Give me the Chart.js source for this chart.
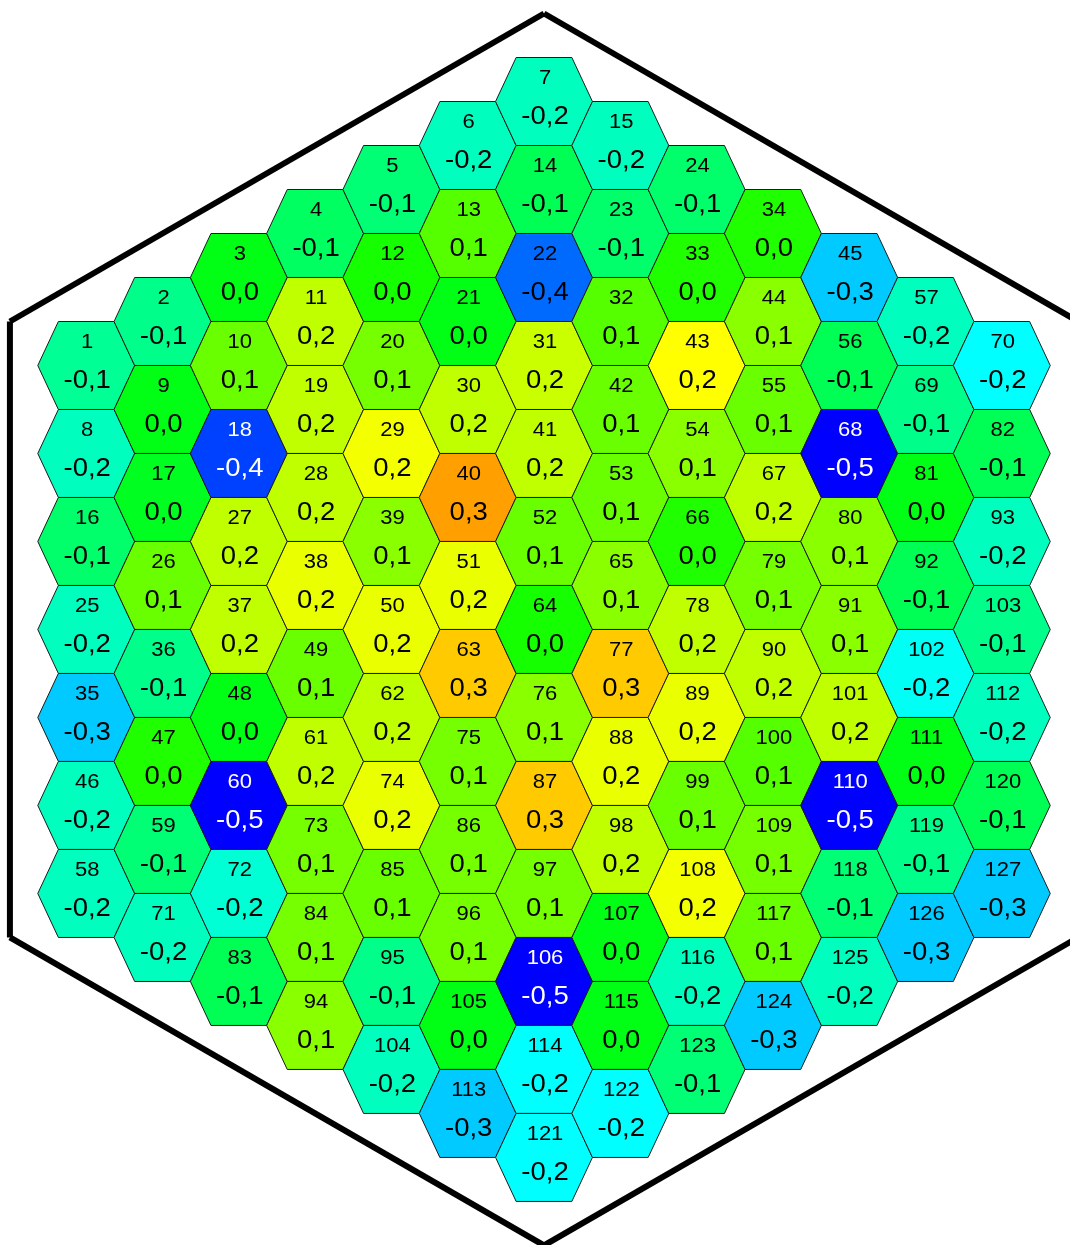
<!DOCTYPE html>
<html>
<head>
<meta charset="utf-8">
<script src="https://cdn.jsdelivr.net/npm/chart.js@4.4.0/dist/chart.umd.min.js"></script>
<style>
html, body { margin: 0; padding: 0; background: #fff; }
#wrap { width: 1070px; height: 1245px; }
</style>
</head>
<body>
<div id="wrap"><canvas id="core" width="1070" height="1245"></canvas></div>
<script>
// Core map - 127 hexagonal cells numbered along the up-right diagonal rows.
// Each inner array is one diagonal row. Values are estimated from the fill
// colour (the label shows them rounded to one decimal, with a comma).

const coreRows = [
    [-0.14, -0.13, -0.02, -0.09, -0.11, -0.18, -0.18],
    [-0.18, -0.02, 0.10, 0.18, 0.02, 0.08, -0.08, -0.18],
    [-0.10, -0.03, -0.42, 0.18, 0.11, -0.02, -0.38, -0.10, -0.10],
    [-0.18, 0.10, 0.18, 0.18, 0.23, 0.18, 0.19, 0.08, 0.03, 0.03],
    [-0.29, -0.13, 0.18, 0.22, 0.13, 0.33, 0.18, 0.10, 0.24, 0.13, -0.29],
    [-0.18, 0.03, -0.02, 0.10, 0.22, 0.22, 0.10, 0.10, 0.13, 0.10, -0.08, -0.18],
    [-0.18, -0.11, -0.50, 0.18, 0.18, 0.29, 0.02, 0.13, 0.03, 0.18, -0.50, -0.13, -0.24],
    [-0.18, -0.20, 0.11, 0.22, 0.11, 0.13, 0.29, 0.18, 0.11, 0.13, -0.02, -0.08],
    [-0.08, 0.11, 0.10, 0.11, 0.29, 0.22, 0.22, 0.18, 0.13, -0.08, -0.18],
    [0.13, -0.13, 0.11, 0.11, 0.18, 0.10, 0.08, 0.18, -0.23, -0.13],
    [-0.18, -0.02, -0.50, -0.02, 0.23, 0.11, -0.50, -0.02, -0.18],
    [-0.29, -0.24, -0.02, -0.18, 0.10, -0.11, -0.13, -0.08],
    [-0.24, -0.24, -0.11, -0.29, -0.18, -0.29, -0.29]
];

// first column (1..13) where each diagonal row starts
const rowFirstColumn = [1, 1, 1, 1, 1, 1, 1, 2, 3, 4, 5, 6, 7];

const rings = (coreRows.length + 1) / 2;   // 7
const centreCol = rings;                   // column 7 is the middle one

// build the cells: x = column offset, y = half-row offset (up is positive)
const cells = [];
let cellNo = 0;
coreRows.forEach((row, r) => {
    row.forEach((v, k) => {
        cellNo++;
        const col = rowFirstColumn[r] + k;
        cells.push({ x: col - centreCol, y: col + centreCol - 2 - 2 * r, v: v, n: cellNo });
    });
});

// colour scale: hue from blue (low) through cyan, green, yellow to orange
const cellColour = v => {
    const h = Math.max(0, Math.min(240, 120 - v * 250));
    return `hsl(${h}, 100%, 50%)`;
};
const fmt = v => ((Math.round(v * 10) / 10) + 0).toFixed(1).replace('.', ',');

const HALF_W = 0.635;   // half width of a cell, in column units
const HALF_T = 1 - HALF_W; // half of the flat top edge

const hexPlugin = {
    id: 'hexCells',
    afterDatasetsDraw(chart) {
        const { ctx, scales: { x, y } } = chart;
        const meta = chart.getDatasetMeta(0);
        const pts = chart.data.datasets[0].data;
        meta.data.forEach((el, i) => {
            const d = pts[i];
            const corners = [
                [d.x - HALF_W, d.y], [d.x - HALF_T, d.y + 1], [d.x + HALF_T, d.y + 1],
                [d.x + HALF_W, d.y], [d.x + HALF_T, d.y - 1], [d.x - HALF_T, d.y - 1]
            ];
            ctx.save();
            ctx.beginPath();
            corners.forEach(([cx, cy], j) => {
                const px = x.getPixelForValue(cx), py = y.getPixelForValue(cy);
                if (j === 0) ctx.moveTo(px, py); else ctx.lineTo(px, py);
            });
            ctx.closePath();
            ctx.fillStyle = cellColour(d.v);
            ctx.fill();
            ctx.lineWidth = 1;
            ctx.strokeStyle = '#1a1a1a';
            ctx.stroke();

            ctx.fillStyle = d.v < -0.4 ? '#ffffff' : '#000000';
            ctx.textAlign = 'center';
            ctx.textBaseline = 'middle';
            ctx.save();
            ctx.translate(el.x + 1, el.y - 23);
            ctx.scale(1.1, 1);
            ctx.font = '20px "Liberation Sans", Arial, sans-serif';
            ctx.fillText(String(d.n), 0, 0);
            ctx.restore();
            ctx.save();
            ctx.translate(el.x + 1, el.y + 15.5);
            ctx.scale(1.1, 1);
            ctx.font = '25px "Liberation Sans", Arial, sans-serif';
            ctx.fillText(fmt(d.v), 0, 0);
            ctx.restore();
            ctx.restore();
        });
    },
    afterDraw(chart) {
        // heavy outline round the core, drawn edge by edge
        const { ctx, scales: { x, y } } = chart;
        const n = rings;
        const outline = [[0, 2 * n], [n, n], [n, -n], [0, -2 * n], [-n, -n], [-n, n]];
        ctx.save();
        ctx.strokeStyle = '#000';
        ctx.lineWidth = 6;
        ctx.lineCap = 'butt';
        outline.forEach((p, i) => {
            const q = outline[(i + 1) % outline.length];
            ctx.beginPath();
            ctx.moveTo(x.getPixelForValue(p[0]), y.getPixelForValue(p[1]));
            ctx.lineTo(x.getPixelForValue(q[0]), y.getPixelForValue(q[1]));
            ctx.stroke();
        });
        ctx.restore();
    }
};

new Chart(document.getElementById('core'), {
    type: 'scatter',
    data: {
        datasets: [{
            data: cells,
            pointRadius: 0,
            pointHoverRadius: 0
        }]
    },
    options: {
        responsive: false,
        animation: false,
        layout: { padding: 0 },
        plugins: { legend: { display: false }, tooltip: { enabled: false } },
        scales: {
            x: { type: 'linear', display: false, min: -7.13, max: 6.894 },
            y: { type: 'linear', display: false, min: -13.99, max: 14.307 }
        }
    },
    plugins: [hexPlugin]
});
</script>
</body>
</html>
